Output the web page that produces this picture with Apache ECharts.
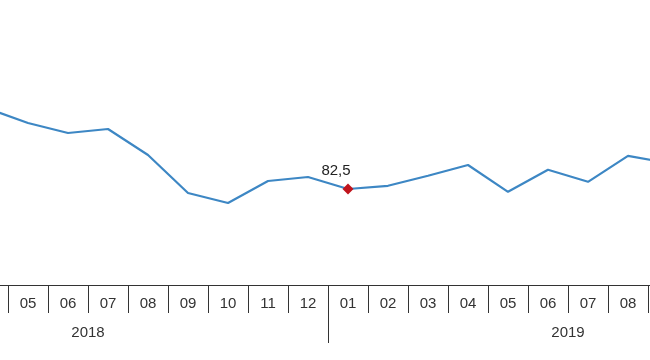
<!DOCTYPE html>
<html>
<head>
<meta charset="utf-8">
<script src="https://cdn.jsdelivr.net/npm/echarts@6/dist/echarts.min.js"></script>
<style>
html,body{margin:0;padding:0;background:#fff;width:650px;height:360px;overflow:hidden;position:relative}
#c{position:absolute;left:-152px;top:0;width:960px;height:360px}
</style>
</head>
<body>
<div id="c"></div>
<script>
// Months Jan 2018 .. Dec 2019 (only Apr 2018 .. Sep 2019 visible in the picture)
var months = ['01','02','03','04','05','06','07','08','09','10','11','12',
              '01','02','03','04','05','06','07','08','09','10','11','12'];
var years = ['2018','2019'];
var values = [null, null, null, 102.6, 99.0, 96.5, 97.5, 91.0, 81.5, 79.0, 84.5, 85.5,
              82.5, 83.3, 85.8, 88.5, 81.8, 87.3, 84.3, 90.8, 89.0, null, null, null];
var highlightIndex = 12;

var data = values.map(function (v, i) {
  if (i === highlightIndex) {
    return {
      value: v,
      symbol: 'diamond',
      symbolSize: 11,
      itemStyle: { color: '#c0141c' },
      label: {
        show: true, position: 'top', offset: [-12, 0],
        color: '#222', fontSize: 15, fontFamily: 'Liberation Sans, Arial, sans-serif',
        formatter: function (p) { return String(p.value).replace('.', ','); }
      }
    };
  }
  return v;
});

var chart = echarts.init(document.getElementById('c'));
chart.setOption({
  animation: false,
  grid: { left: 0, top: 5, width: 960, height: 280, containLabel: false },
  xAxis: [{
    type: 'category',
    data: months,
    boundaryGap: true,
    position: 'bottom',
    axisLine: { show: true, lineStyle: { color: '#333', width: 1 } },
    axisTick: { show: true, interval: 0, length: 28, lineStyle: { color: '#333', width: 1 } },
    axisLabel: { interval: 0, margin: 11, color: '#333', fontSize: 15, fontFamily: 'Liberation Sans, Arial, sans-serif' },
    splitLine: { show: false }
  }, {
    type: 'category',
    data: years,
    boundaryGap: true,
    position: 'bottom',
    axisLine: { show: false },
    axisTick: { show: true, interval: 0, length: 58, lineStyle: { color: '#333', width: 1 } },
    axisLabel: { interval: 0, margin: 40, color: '#333', fontSize: 15, fontFamily: 'Liberation Sans, Arial, sans-serif' },
    splitLine: { show: false }
  }],
  yAxis: {
    type: 'value',
    min: 58.5,
    max: 128.5,
    show: false,
    splitLine: { show: false }
  },
  series: [{
    type: 'line',
    data: data,
    xAxisIndex: 0,
    symbol: 'none',
    connectNulls: false,
    lineStyle: { color: '#3d87c4', width: 2.2 },
    itemStyle: { color: '#3d87c4' }
  }]
});
</script>
</body>
</html>
